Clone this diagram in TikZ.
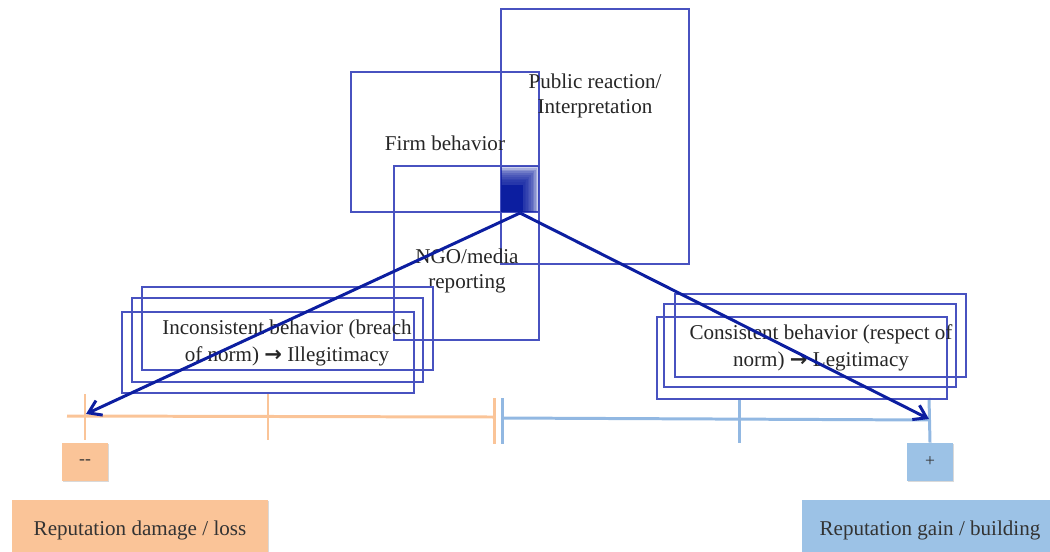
\documentclass[tikz,border=0pt]{standalone}
\usepackage{fontspec}
\setmainfont{Liberation Serif}
\newfontfamily\arrowfont{DejaVu Sans}
\usetikzlibrary{arrows.meta,positioning,fit,shadows}

\definecolor{boxblue}{RGB}{72,82,192}
\definecolor{arrowblue}{RGB}{12,30,160}
\definecolor{lossorange}{RGB}{250,196,152}
\definecolor{gainblue}{RGB}{156,194,230}
\definecolor{axisblue}{RGB}{146,184,226}

\begin{document}
\begin{tikzpicture}[x=0.02cm, y=-0.02cm,
    frame/.style={rectangle, draw=boxblue, line width=0.6pt, inner sep=0pt},
    caption/.style={align=center, font=\fontsize{12}{14}\selectfont, text=black!85},
    lossbox/.style={rectangle, fill=lossorange, text=black!80, drop shadow={shadow xshift=0.6pt, shadow yshift=-0.8pt, opacity=0.3}},
    gainbox/.style={rectangle, fill=gainblue, text=black!80, drop shadow={shadow xshift=0.6pt, shadow yshift=-0.8pt, opacity=0.3}},
    lossaxis/.style={draw=lossorange, line width=1.7pt},
    gainaxis/.style={draw=axisblue, line width=1.7pt},
    trend/.style={draw=arrowblue, line width=1.7pt, -{Straight Barb[length=2.4mm, width=3.2mm]}}]

    \clip (0,0) rectangle (1050,551);

    % scale
    \draw[lossaxis] (67,416) -- (493,417);
    \draw[gainaxis] (502,418) -- (929,420);
    \draw[lossaxis] (85,394) -- (85,440);
    \draw[lossaxis] (268,394) -- (268,440);
    \draw[lossaxis] (494,398) -- (494,444);
    \draw[gainaxis] (502,398) -- (502,444);
    \draw[gainaxis] (739,398) -- (739,443);

    \node[lossbox, minimum width=0.92cm, minimum height=0.76cm, font=\fontsize{10}{12}\selectfont] (minus) at (85,462) {-{}-};
    \node[gainbox, minimum width=0.92cm, minimum height=0.76cm, font=\fontsize{10}{12}\selectfont] (plus) at (930,462) {+};
    \draw[gainaxis] (929,398) -- (plus.north);
    \node[lossbox, minimum width=5.12cm, minimum height=1.2cm, font=\fontsize{12}{14}\selectfont] (damage) at (140,530) {Reputation damage / loss};
    \node[gainbox, minimum width=5.12cm, minimum height=1.2cm, font=\fontsize{12}{14}\selectfont] (gain) at (930,530) {Reputation gain / building};

    % upper boxes
    \node[frame, fit={(351,72) (539,212)}] (firm) {};
    \node[frame, fit={(501,9) (689,264)}] (public) {};
    \node[frame, fit={(394,166) (539,340)}] (ngo) {};
    \node[caption] (firmtext) at (445,143) {Firm behavior};
    \node[caption] (publictext) at (595,96) {Public reaction/\\Interpretation};
    \node[caption] (ngotext) at (467,271) {NGO/media\\reporting};

    % overlap
    \foreach \i in {0,...,9}
        \fill[arrowblue, opacity=0.2] (501,212) rectangle ({539-1.6*\i},{166+1.8*\i});
    \fill[arrowblue] (501,185) rectangle (523,212);
    \coordinate (apex) at (520,213);

    % outcome stacks
    \node[frame, fit={(142,287) (433,370)}] (badback) {};
    \node[frame, fit={(132,298) (423,382)}] (badmid) {};
    \node[frame, fit={(122,312) (414,393)}] (badfront) {};
    \node[caption, font=\fontsize{12}{15}\selectfont] (badtext) at (287,343) {Inconsistent behavior (breach\\of norm) {\arrowfont\bfseries →} Illegitimacy};

    \node[frame, fit={(675,294) (966,377)}] (goodback) {};
    \node[frame, fit={(664,304) (956,387)}] (goodmid) {};
    \node[frame, fit={(657,317) (947,399)}] (goodfront) {};
    \node[caption, font=\fontsize{12}{15}\selectfont] (goodtext) at (821,348) {Consistent behavior (respect of\\norm) {\arrowfont\bfseries →} Legitimacy};

    \coordinate (negend) at (86,414);
    \coordinate (posend) at (929,419);
    \draw[trend] (apex) -- (negend);
    \draw[trend] (apex) -- (posend);
\end{tikzpicture}
\end{document}
